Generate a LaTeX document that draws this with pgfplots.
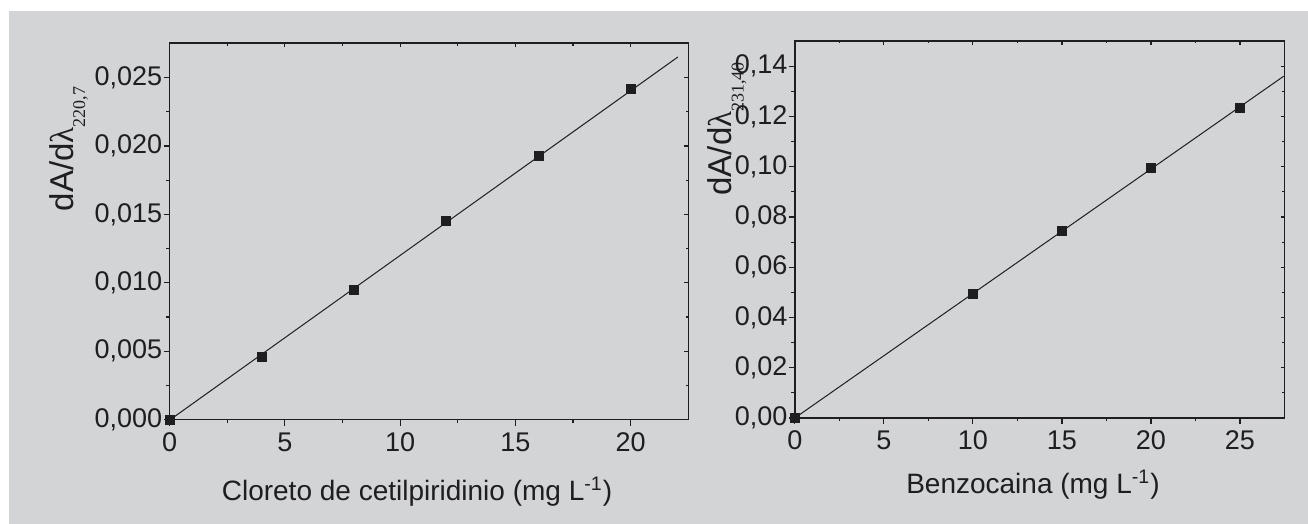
\documentclass[border=0pt]{standalone}
\usepackage{pgfplots}
\pgfplotsset{compat=1.18}
\usepackage{fontspec}
\setmainfont{Liberation Sans}
\newfontfamily\serif{Liberation Serif}
\definecolor{bg}{RGB}{211,212,214}
\definecolor{ink}{RGB}{30,30,32}

\pgfplotsset{
  common/.style={
    scale only axis,
    anchor=south west,
    axis line style={ink, line width=0.8pt},
    every tick/.style={ink, line width=0.6pt},
    tick label style={font=\fontsize{13.5}{15}\selectfont, text=ink},
    /pgf/number format/assume math mode=true,
    scaled ticks=false,
    clip=false,
  },
  mainax/.style={
    common,
    xtick pos=left, ytick pos=left,
    tick align=outside,
    major tick length=3pt, minor tick length=1.7pt,
    yticklabel style={inner xsep=0.5pt},
  },
  mirror/.style={
    common,
    xtick pos=right, ytick pos=right,
    tick align=inside,
    major tick length=2pt, minor tick length=1.2pt,
    xticklabels={}, yticklabels={},
  },
}

\begin{document}
\begin{tikzpicture}
\fill[white] (0,0) rectangle (654pt,262pt);
\fill[bg] (4.5pt,0) rectangle (654pt,256.5pt);

% ---------------- left panel ----------------
\begin{axis}[mirror,
  at={(84.8pt,52.15pt)}, width=259.35pt, height=188.2pt,
  xmin=0, xmax=22.5, ymin=0, ymax=0.0275,
  xtick={0,5,...,20}, minor x tick num=1,
  ytick={0,0.005,0.01,0.015,0.02,0.025}, minor y tick num=1]
\end{axis}
\begin{axis}[mainax,
  at={(84.8pt,52.15pt)}, width=259.35pt, height=188.2pt,
  xmin=0, xmax=22.5, ymin=0, ymax=0.0275,
  xtick={0,5,...,20}, minor x tick num=1,
  ytick={0,0.005,0.01,0.015,0.02,0.025}, minor y tick num=1,
  yticklabel style={/pgf/number format/.cd, fixed, fixed zerofill, precision=3, use comma},
  xlabel={Cloreto de cetilpiridinio (mg L\textsuperscript{-1})},
  xlabel style={at={(axis description cs:0.477,0)}, anchor=base, yshift=-40.5pt,
    font=\fontsize{14}{16}\selectfont, text=ink},
  ylabel={dA/d{\serif λ}\raisebox{-6pt}{\fontsize{9}{10}\serif 220,7}},
  ylabel style={at={(axis description cs:-0.1862,0.9033)}, anchor=base east, rotate=0,
    font=\fontsize{16.5}{18}\selectfont, text=ink},
]
\addplot[ink, line width=0.5pt] coordinates {(0,-0.00003) (22.05,0.02650)};
\addplot[only marks, mark=square*, mark size=2.25pt, mark options={fill=ink, draw=ink}]
  coordinates {(0,0) (4,0.00457) (8,0.00951) (12,0.01450) (16,0.01929) (20,0.02420)};
\end{axis}

% ---------------- right panel ----------------
\begin{axis}[mirror,
  at={(397.4pt,53pt)}, width=244.85pt, height=188.45pt,
  xmin=0, xmax=27.5, ymin=0, ymax=0.15,
  xtick={0,5,...,25}, minor x tick num=1,
  ytick={0,0.02,...,0.141}, minor y tick num=1]
\end{axis}
\begin{axis}[mainax,
  at={(397.4pt,53pt)}, width=244.85pt, height=188.45pt,
  xmin=0, xmax=27.5, ymin=0, ymax=0.15,
  xtick={0,5,...,25}, minor x tick num=1,
  ytick={0,0.02,0.04,0.06,0.08,0.10,0.12,0.14}, minor y tick num=1,
  yticklabel style={/pgf/number format/.cd, fixed, fixed zerofill, precision=2, use comma},
  xlabel={Benzocaina (mg L\textsuperscript{-1})},
  xlabel style={at={(axis description cs:0.4864,0)}, anchor=base, yshift=-38pt,
    font=\fontsize{14}{16}\selectfont, text=ink},
  ylabel={dA/d{\serif λ}\raisebox{-6pt}{\fontsize{9}{10}\serif 231,40}},
  ylabel style={at={(axis description cs:-0.1289,0.9631)}, anchor=base east, rotate=0,
    font=\fontsize{16.5}{18}\selectfont, text=ink},
]
\addplot[ink, line width=0.5pt] coordinates {(0,0) (27.45,0.1360)};
\addplot[only marks, mark=square*, mark size=2.25pt, mark options={fill=ink, draw=ink}]
  coordinates {(0,0) (10,0.0492) (15,0.0743) (20,0.0996) (25,0.1235)};
\end{axis}
\end{tikzpicture}
\end{document}
